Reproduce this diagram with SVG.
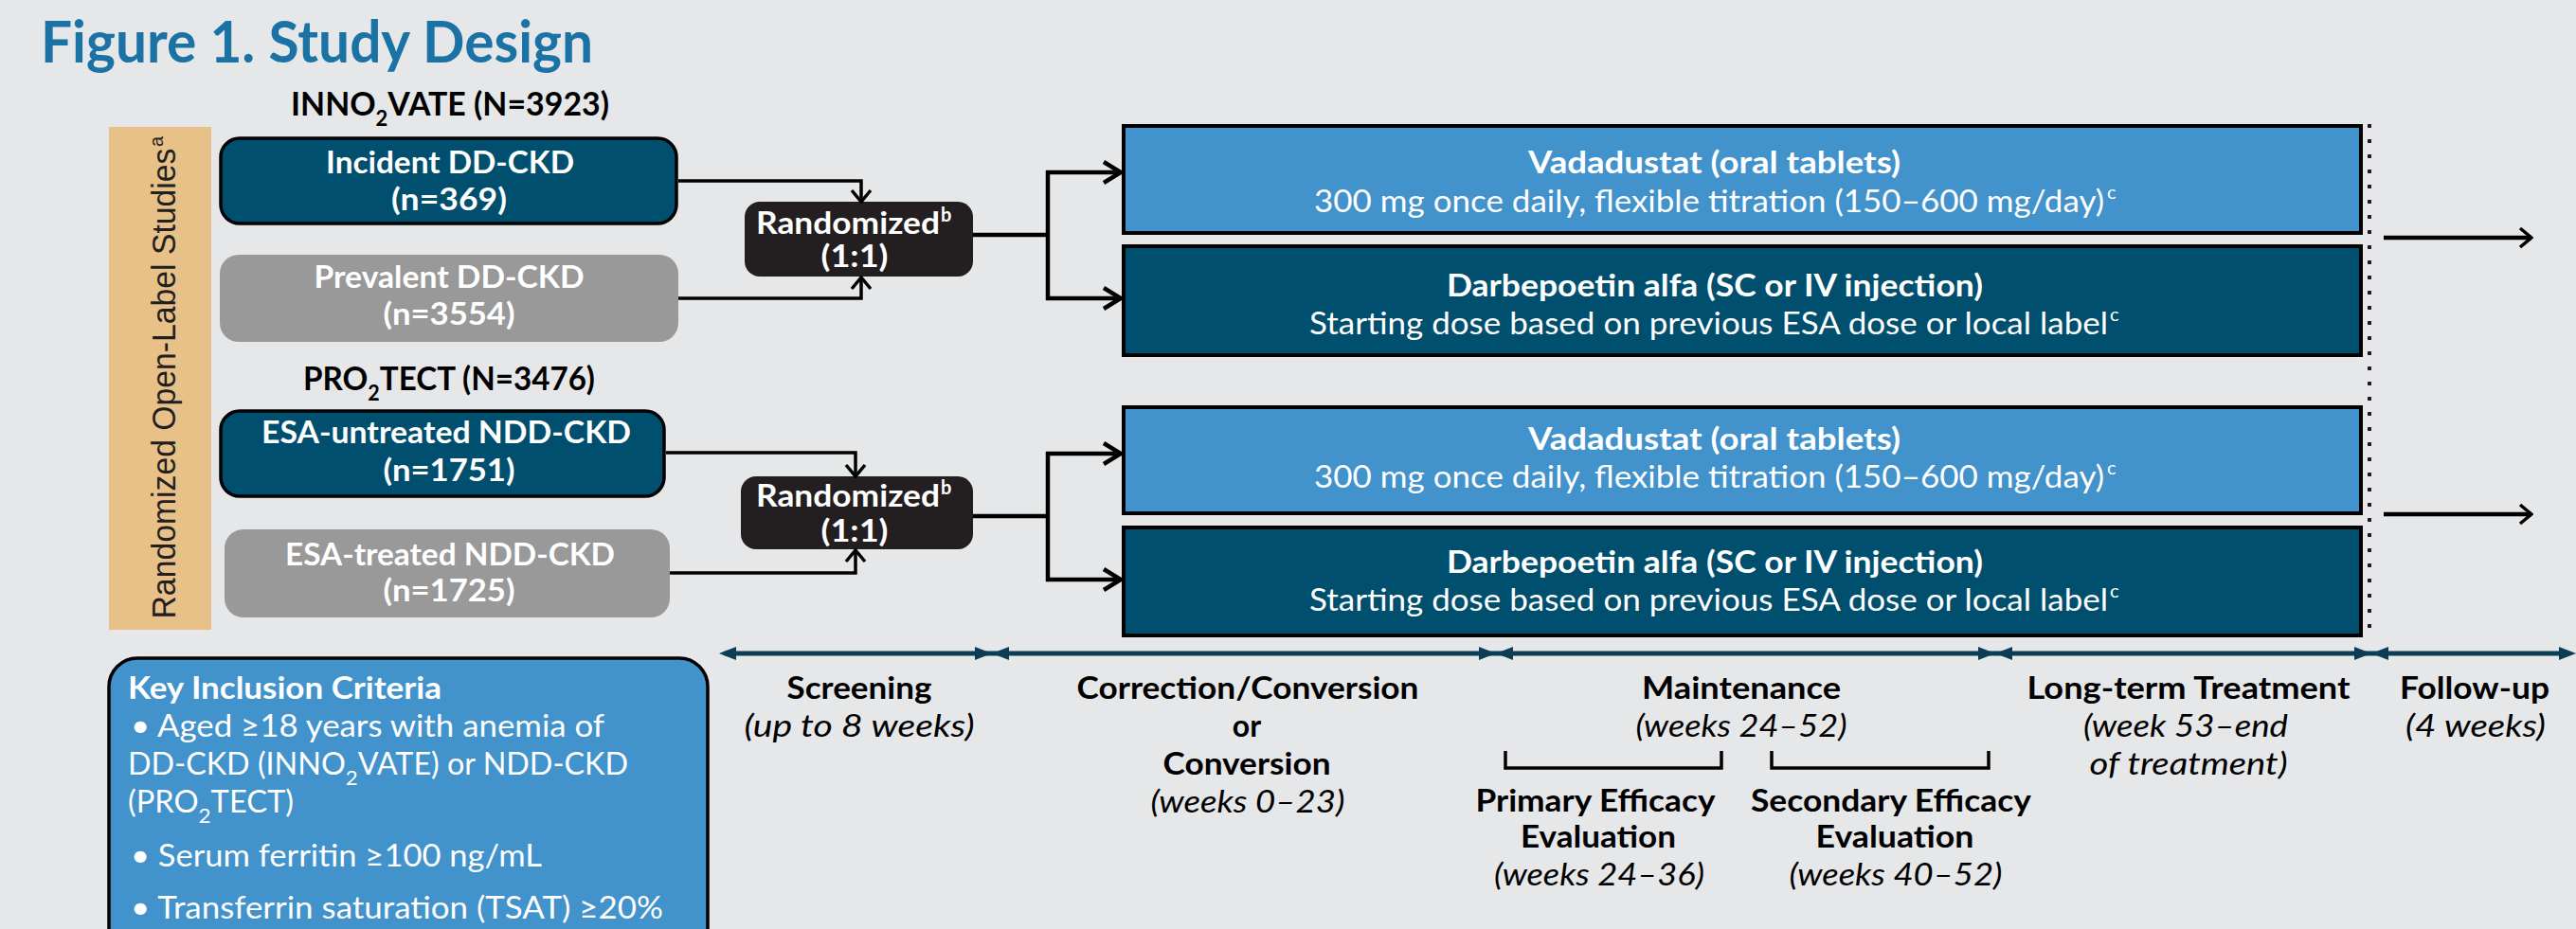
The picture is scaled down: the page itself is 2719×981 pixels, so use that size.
<svg xmlns="http://www.w3.org/2000/svg" width="2719" height="981" viewBox="0 0 2719 981">
<style>
.b{font-family:Lato,"Open Sans","Liberation Sans",sans-serif;font-weight:700}
.r{font-family:Lato,"Open Sans","Liberation Sans",sans-serif;font-weight:400}
.i{font-family:Lato,"Open Sans","Liberation Sans",sans-serif;font-weight:400;font-style:italic}
.w{fill:#FFFFFF}
.k{fill:#000000}
.f32{font-size:32px}
.sup{font-size:20px}
.dark{fill:#004F6E;stroke:#000;stroke-width:3.5}
.gray{fill:#999999}
.rand{fill:#231F20}
.lb{fill:#4292CC;stroke:#000;stroke-width:4}
.db{fill:#004F6E;stroke:#000;stroke-width:4}
.thin{fill:none;stroke:#000;stroke-width:3.5}
.thick{fill:none;stroke:#000;stroke-width:4.5}
.tl{fill:none;stroke:#0B3D55;stroke-width:5}
</style>
<defs>
<marker id="chevS" markerUnits="userSpaceOnUse" viewBox="0 0 16 24" refX="14" refY="12" markerWidth="16" markerHeight="24" orient="auto">
<path d="M2,2 L14,12 L2,22" fill="none" stroke="#000" stroke-width="3.5"/>
</marker>
<marker id="chevL" markerUnits="userSpaceOnUse" viewBox="0 0 24 26" refX="21" refY="13" markerWidth="24" markerHeight="26" orient="auto">
<path d="M3,2 L21,13 L3,24" fill="none" stroke="#000" stroke-width="4.5"/>
</marker>
<path id="tri" d="M0,0 L-18,-7 L-18,7 Z" fill="#0B3D55"/>
</defs>
<rect x="0" y="0" width="2719" height="981" fill="#E6E7E9"/>

<text id="title" class="b" x="43" y="66" font-size="62" fill="#1A72A5" textLength="583" lengthAdjust="spacingAndGlyphs">Figure 1. Study Design</text>

<g id="side-label">
<rect x="115" y="134" width="108" height="531" fill="#E8C189"/>
<text font-family="'Liberation Sans',Arial,sans-serif" font-size="35" fill="#231F20" text-anchor="middle" transform="translate(185,405) rotate(-90)" textLength="497" lengthAdjust="spacingAndGlyphs">Randomized Open-Label Studies</text>
<text font-family="'Liberation Sans',Arial,sans-serif" font-size="20" fill="#231F20" transform="translate(172,155) rotate(-90)">a</text>
</g>

<g id="head-innovate">
<text class="b k" x="307" y="122" font-size="34" textLength="336" lengthAdjust="spacingAndGlyphs">INNO<tspan dy="11" font-size="22">2</tspan><tspan dy="-11">VATE (N=3923)</tspan></text>
</g>
<g id="head-protect">
<text class="b k" x="320" y="412" font-size="34" textLength="308" lengthAdjust="spacingAndGlyphs">PRO<tspan dy="11" font-size="22">2</tspan><tspan dy="-11">TECT (N=3476)</tspan></text>
</g>

<g id="node-incident">
<rect class="dark" x="233" y="146" width="481" height="90" rx="20"/>
<text class="b w f32" x="475" y="183" text-anchor="middle" textLength="262" lengthAdjust="spacingAndGlyphs">Incident DD-CKD</text>
<text class="b w f32" x="474" y="222" text-anchor="middle" textLength="122" lengthAdjust="spacingAndGlyphs">(n=369)</text>
</g>
<g id="node-prevalent">
<rect class="gray" x="232" y="269" width="484" height="92" rx="20"/>
<text class="b w f32" x="474" y="304" text-anchor="middle" textLength="285" lengthAdjust="spacingAndGlyphs">Prevalent DD-CKD</text>
<text class="b w f32" x="474" y="343" text-anchor="middle" textLength="139" lengthAdjust="spacingAndGlyphs">(n=3554)</text>
</g>
<g id="node-esa-untreated">
<rect class="dark" x="233" y="434" width="468" height="90" rx="20"/>
<text class="b w f32" x="471" y="468" text-anchor="middle" textLength="390" lengthAdjust="spacingAndGlyphs">ESA-untreated NDD-CKD</text>
<text class="b w f32" x="474" y="508" text-anchor="middle" textLength="139" lengthAdjust="spacingAndGlyphs">(n=1751)</text>
</g>
<g id="node-esa-treated">
<rect class="gray" x="237" y="559" width="470" height="93" rx="20"/>
<text class="b w f32" x="475" y="597" text-anchor="middle" textLength="348" lengthAdjust="spacingAndGlyphs">ESA-treated NDD-CKD</text>
<text class="b w f32" x="474" y="635" text-anchor="middle" textLength="139" lengthAdjust="spacingAndGlyphs">(n=1725)</text>
</g>

<g id="node-randomized-1">
<rect class="rand" x="786" y="213" width="241" height="79" rx="16"/>
<text class="b w f32" x="798" y="247" textLength="194" lengthAdjust="spacingAndGlyphs">Randomized</text>
<text class="b w sup" x="993" y="234">b</text>
<text class="b w f32" x="902" y="282" text-anchor="middle" textLength="71" lengthAdjust="spacingAndGlyphs">(1:1)</text>
</g>
<g id="node-randomized-2">
<rect class="rand" x="782" y="503" width="245" height="77" rx="16"/>
<text class="b w f32" x="798" y="535" textLength="194" lengthAdjust="spacingAndGlyphs">Randomized</text>
<text class="b w sup" x="993" y="522">b</text>
<text class="b w f32" x="902" y="572" text-anchor="middle" textLength="71" lengthAdjust="spacingAndGlyphs">(1:1)</text>
</g>

<g id="node-vadadustat-1">
<rect class="lb" x="1186" y="133" width="1306" height="113"/>
<text class="b w f32" x="1613" y="183" textLength="393" lengthAdjust="spacingAndGlyphs">Vadadustat (oral tablets)</text>
<text class="r w f32" x="1387" y="224" textLength="834" lengthAdjust="spacingAndGlyphs">300 mg once daily, flexible titration (150–600 mg/day)</text>
<text class="r w sup" x="2224" y="210">c</text>
</g>
<g id="node-darbepoetin-1">
<rect class="db" x="1186" y="260" width="1306" height="115"/>
<text class="b w f32" x="1527" y="313" textLength="566" lengthAdjust="spacingAndGlyphs">Darbepoetin alfa (SC or IV injection)</text>
<text class="r w f32" x="1382" y="353" textLength="843" lengthAdjust="spacingAndGlyphs">Starting dose based on previous ESA dose or local label</text>
<text class="r w sup" x="2227" y="339">c</text>
</g>
<g id="node-vadadustat-2">
<rect class="lb" x="1186" y="430" width="1306" height="112"/>
<text class="b w f32" x="1613" y="475" textLength="393" lengthAdjust="spacingAndGlyphs">Vadadustat (oral tablets)</text>
<text class="r w f32" x="1387" y="515" textLength="834" lengthAdjust="spacingAndGlyphs">300 mg once daily, flexible titration (150–600 mg/day)</text>
<text class="r w sup" x="2224" y="501">c</text>
</g>
<g id="node-darbepoetin-2">
<rect class="db" x="1186" y="557" width="1306" height="114"/>
<text class="b w f32" x="1527" y="605" textLength="566" lengthAdjust="spacingAndGlyphs">Darbepoetin alfa (SC or IV injection)</text>
<text class="r w f32" x="1382" y="645" textLength="843" lengthAdjust="spacingAndGlyphs">Starting dose based on previous ESA dose or local label</text>
<text class="r w sup" x="2227" y="631">c</text>
</g>

<g id="node-inclusion">
<rect x="115" y="695" width="632" height="330" rx="30" fill="#4292CC" stroke="#000" stroke-width="3.5"/>
<text class="b w f32" x="135" y="738" textLength="331" lengthAdjust="spacingAndGlyphs">Key Inclusion Criteria</text>
<text class="r w f32" x="138" y="778" textLength="500" lengthAdjust="spacingAndGlyphs">• Aged ≥18 years with anemia of</text>
<text class="r w f32" x="135" y="818" textLength="528" lengthAdjust="spacingAndGlyphs">DD-CKD (INNO<tspan dy="11" font-size="22">2</tspan><tspan dy="-11">VATE) or NDD-CKD</tspan></text>
<text class="r w f32" x="135" y="858" textLength="175" lengthAdjust="spacingAndGlyphs">(PRO<tspan dy="11" font-size="22">2</tspan><tspan dy="-11">TECT)</tspan></text>
<text class="r w f32" x="138" y="915" textLength="434" lengthAdjust="spacingAndGlyphs">• Serum ferritin ≥100 ng/mL</text>
<text class="r w f32" x="138" y="970" textLength="562" lengthAdjust="spacingAndGlyphs">• Transferrin saturation (TSAT) ≥20%</text>
</g>

<g id="connectors">
<path class="thin" d="M716,191 H909 V213" marker-end="url(#chevS)"/>
<path class="thin" d="M716,315 H909 V293" marker-end="url(#chevS)"/>
<path class="thick" d="M1027,248 H1106"/>
<path class="thick" d="M1106,180 V317"/>
<path class="thick" d="M1104,182 H1183" marker-end="url(#chevL)"/>
<path class="thick" d="M1104,315 H1183" marker-end="url(#chevL)"/>
<path class="thin" d="M703,478 H903 V503" marker-end="url(#chevS)"/>
<path class="thin" d="M707,605 H903 V581" marker-end="url(#chevS)"/>
<path class="thick" d="M1027,545 H1106"/>
<path class="thick" d="M1106,477 V614"/>
<path class="thick" d="M1104,479 H1183" marker-end="url(#chevL)"/>
<path class="thick" d="M1104,612 H1183" marker-end="url(#chevL)"/>
<path class="thick" d="M2516,251 H2672" marker-end="url(#chevS)"/>
<path class="thick" d="M2516,543 H2672" marker-end="url(#chevS)"/>
<path d="M2501,131 V665" fill="none" stroke="#231F20" stroke-width="4" stroke-dasharray="4 12"/>
<path class="tl" d="M765,690 H2712"/>
<use href="#tri" transform="translate(759,690) scale(-1,1)"/>
<use href="#tri" transform="translate(1047,690)"/>
<use href="#tri" transform="translate(1047,690) scale(-1,1)"/>
<use href="#tri" transform="translate(1579,690)"/>
<use href="#tri" transform="translate(1579,690) scale(-1,1)"/>
<use href="#tri" transform="translate(2106,690)"/>
<use href="#tri" transform="translate(2106,690) scale(-1,1)"/>
<use href="#tri" transform="translate(2503,690)"/>
<use href="#tri" transform="translate(2503,690) scale(-1,1)"/>
<use href="#tri" transform="translate(2719,690)"/>
<path class="thin" d="M1589,793 V811 H1817 V793"/>
<path class="thin" d="M1870,793 V811 H2099 V793"/>
</g>

<g id="phase-screening">
<text class="b k f32" x="907" y="738" text-anchor="middle" textLength="153" lengthAdjust="spacingAndGlyphs">Screening</text>
<text class="i k f32" x="907" y="778" text-anchor="middle" textLength="243" lengthAdjust="spacingAndGlyphs">(up to 8  weeks)</text>
</g>
<g id="phase-correction">
<text class="b k f32" x="1317" y="738" text-anchor="middle" textLength="361" lengthAdjust="spacingAndGlyphs">Correction/Conversion</text>
<text class="b k f32" x="1316" y="778" text-anchor="middle">or</text>
<text class="b k f32" x="1316" y="818" text-anchor="middle" textLength="177" lengthAdjust="spacingAndGlyphs">Conversion</text>
<text class="i k f32" x="1317" y="858" text-anchor="middle" textLength="205" lengthAdjust="spacingAndGlyphs">(weeks 0–23)</text>
</g>
<g id="phase-maintenance">
<text class="b k f32" x="1838" y="738" text-anchor="middle" textLength="210" lengthAdjust="spacingAndGlyphs">Maintenance</text>
<text class="i k f32" x="1838" y="778" text-anchor="middle" textLength="223" lengthAdjust="spacingAndGlyphs">(weeks 24–52)</text>
</g>
<g id="phase-primary">
<text class="b k f32" x="1684" y="857" text-anchor="middle" textLength="253" lengthAdjust="spacingAndGlyphs">Primary Efficacy</text>
<text class="b k f32" x="1687" y="895" text-anchor="middle" textLength="164" lengthAdjust="spacingAndGlyphs">Evaluation</text>
<text class="i k f32" x="1688" y="935" text-anchor="middle" textLength="222" lengthAdjust="spacingAndGlyphs">(weeks 24–36)</text>
</g>
<g id="phase-secondary">
<text class="b k f32" x="1996" y="857" text-anchor="middle" textLength="296" lengthAdjust="spacingAndGlyphs">Secondary Efficacy</text>
<text class="b k f32" x="2000" y="895" text-anchor="middle" textLength="167" lengthAdjust="spacingAndGlyphs">Evaluation</text>
<text class="i k f32" x="2001" y="935" text-anchor="middle" textLength="225" lengthAdjust="spacingAndGlyphs">(weeks 40–52)</text>
</g>
<g id="phase-longterm">
<text class="b k f32" x="2310" y="738" text-anchor="middle" textLength="341" lengthAdjust="spacingAndGlyphs">Long-term Treatment</text>
<text class="i k f32" x="2307" y="778" text-anchor="middle" textLength="216" lengthAdjust="spacingAndGlyphs">(week 53–end</text>
<text class="i k f32" x="2310" y="818" text-anchor="middle" textLength="209" lengthAdjust="spacingAndGlyphs">of treatment)</text>
</g>
<g id="phase-followup">
<text class="b k f32" x="2612" y="738" text-anchor="middle" textLength="158" lengthAdjust="spacingAndGlyphs">Follow-up</text>
<text class="i k f32" x="2613" y="778" text-anchor="middle" textLength="148" lengthAdjust="spacingAndGlyphs">(4 weeks)</text>
</g>
</svg>
